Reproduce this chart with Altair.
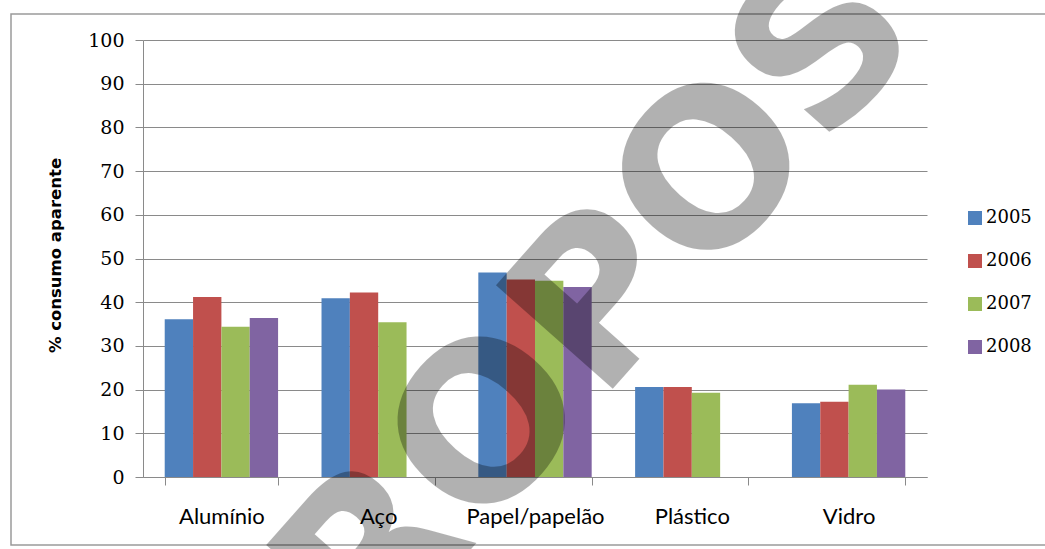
import altair as alt
import pandas as pd

categories = ["Alumínio", "Aço", "Papel/papelão", "Plástico", "Vidro"]
years = ["2005", "2006", "2007", "2008"]
v2005 = [36.1, 40.9, 46.8, 20.6, 16.9]
v2006 = [41.2, 42.2, 45.2, 20.6, 17.2]
v2007 = [34.4, 35.4, 44.9, 19.3, 21.1]
v2008 = [36.4, None, 43.5, None, 20.0]
y_ticks = list(range(0, 101, 10))
colors = ["#4F81BD", "#C0504D", "#9BBB59", "#8064A2"]
y_title = "% consumo aparente"
watermark = "PROPOSTA"

rows = []
for yr, vals in zip(years, [v2005, v2006, v2007, v2008]):
    for c, v in zip(categories, vals):
        if v is not None:
            rows.append({"cat": c, "year": yr, "value": v})
df = pd.DataFrame(rows)

W, H = 784, 437
GREY = "#8a8a8a"

bars = alt.Chart(df).mark_bar().encode(
    x=alt.X(
        "cat:N", sort=categories,
        scale=alt.Scale(paddingInner=0.277, paddingOuter=0.1385),
        axis=alt.Axis(title=None, labelFont="Lato", labelFontSize=22, labelColor="#000",
                      labelAngle=0, labelBaseline="alphabetic", labelPadding=38,
                      tickSize=8, tickColor=GREY, domainColor=GREY, tickBand="extent",
                      grid=False),
    ),
    xOffset=alt.XOffset("year:N", scale=alt.Scale(domain=years)),
    y=alt.Y(
        "value:Q", scale=alt.Scale(domain=[0, 100]),
        axis=alt.Axis(values=y_ticks, title=y_title, labelFont="DejaVu Serif",
                      labelFontSize=19, labelColor="#000", labelPadding=11, tickSize=8,
                      tickColor=GREY, domainColor=GREY, gridColor=GREY,
                      titleFont="DejaVu Sans", titleFontWeight="bold", titleFontSize=16.5,
                      titleColor="#000", titleX=-88, titleY=215, titleAngle=270,
                      titleBaseline="middle", titleAlign="center"),
    ),
    color=alt.Color(
        "year:N", scale=alt.Scale(domain=years, range=colors),
        legend=alt.Legend(title=None, orient="none", legendX=823, legendY=169,
                          symbolType="square", symbolSize=196, symbolStrokeWidth=0,
                          labelFont="DejaVu Serif", labelFontSize=18, labelColor="#000",
                          rowPadding=25, labelOffset=2),
    ),
)

frame = alt.Chart(pd.DataFrame({"a": [0]})).mark_rect(
    fillOpacity=0, stroke="#9a9a9a", strokeWidth=1.5
).encode(x=alt.value(-132), x2=alt.value(915), y=alt.value(-26), y2=alt.value(505))

mark = alt.Chart(pd.DataFrame({"t": [watermark]})).mark_text(
    font="DejaVu Sans", fontWeight="bold", fontSize=214, angle=311.5,
    align="center", baseline="alphabetic", color="#000", opacity=0.3
).encode(x=alt.value(551), y=alt.value(257), text="t:N")

chart = alt.layer(frame, bars, mark).properties(
    width=W, height=H,
    autosize=alt.AutoSizeParams(type="none"),
    padding={"left": 143, "top": 40, "right": 118, "bottom": 72},
).configure_view(strokeWidth=0)

chart.save("out.html", embed_options={"renderer": "svg", "actions": False})
